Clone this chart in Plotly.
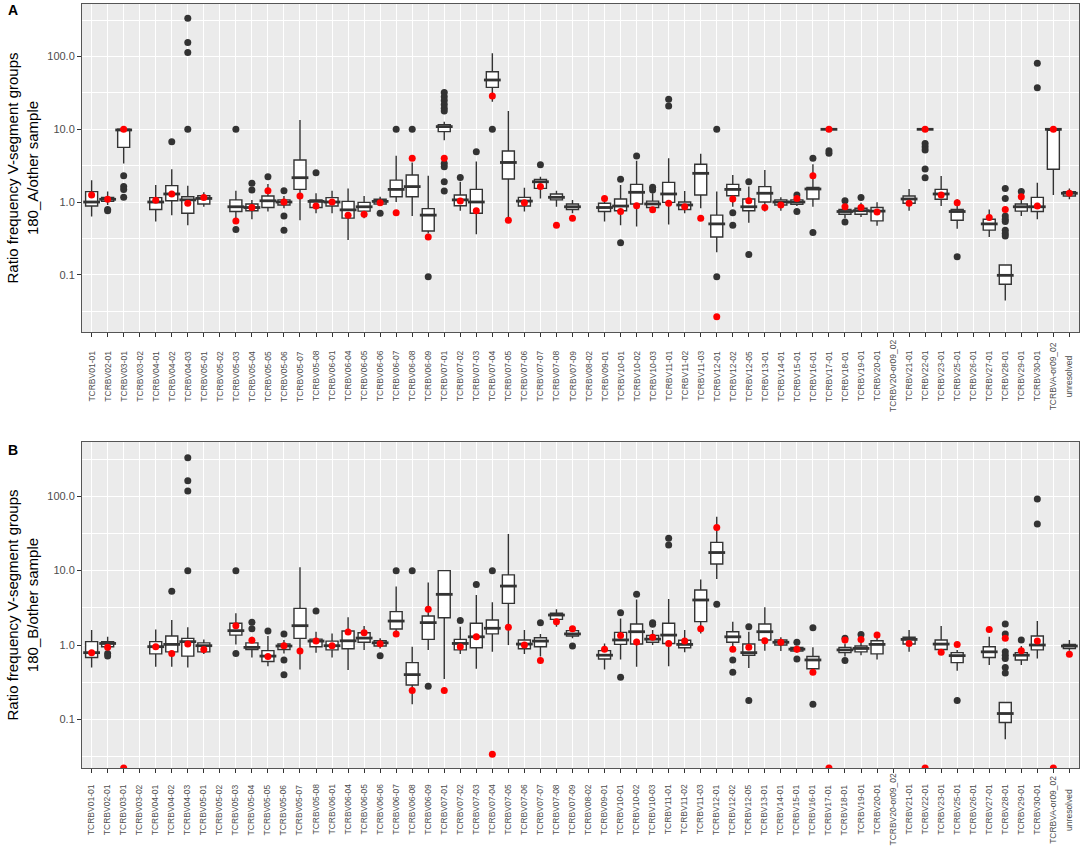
import plotly.graph_objects as go

categories = ["TCRBV01-01","TCRBV02-01","TCRBV03-01","TCRBV03-02","TCRBV04-01","TCRBV04-02","TCRBV04-03",
    "TCRBV05-01","TCRBV05-02","TCRBV05-03","TCRBV05-04","TCRBV05-05","TCRBV05-06","TCRBV05-07","TCRBV05-08",
    "TCRBV06-01","TCRBV06-04","TCRBV06-05","TCRBV06-06","TCRBV06-07","TCRBV06-08","TCRBV06-09",
    "TCRBV07-01","TCRBV07-02","TCRBV07-03","TCRBV07-04","TCRBV07-05","TCRBV07-06","TCRBV07-07","TCRBV07-08","TCRBV07-09",
    "TCRBV08-02","TCRBV09-01","TCRBV10-01","TCRBV10-02","TCRBV10-03","TCRBV11-01","TCRBV11-02","TCRBV11-03",
    "TCRBV12-01","TCRBV12-02","TCRBV12-05","TCRBV13-01","TCRBV14-01","TCRBV15-01","TCRBV16-01","TCRBV17-01",
    "TCRBV18-01","TCRBV19-01","TCRBV20-01","TCRBV20-or09_02","TCRBV21-01","TCRBV22-01","TCRBV23-01","TCRBV25-01",
    "TCRBV26-01","TCRBV27-01","TCRBV28-01","TCRBV29-01","TCRBV30-01","TCRBVA-or09_02","unresolved"]

N = None
# ---------------- Panel A: 180_A / other sample ----------------
q1_A = [0.88,1.02,5.65,N,0.79,1.04,0.70,0.94,N,0.74,0.76,0.84,0.91,1.49,0.84,
        0.88,0.60,0.75,0.94,1.18,1.18,0.40,9.3,0.89,0.70,37.8,2.07,0.88,1.54,1.07,0.79,
        N,0.74,0.76,0.94,0.84,0.99,0.79,1.25,0.33,1.22,0.76,1.0,0.91,0.93,1.10,10,
        0.68,0.68,0.55,N,0.96,10,1.09,0.56,N,0.41,0.074,0.75,0.74,2.82,1.21]
med_A = [1.0,1.09,9.8,N,1.0,1.29,1.07,1.12,N,0.86,0.84,1.04,1.0,2.16,1.02,
         1.0,0.78,0.86,1.02,1.49,1.63,0.66,10.9,1.07,1.0,47.7,3.5,1.03,1.9,1.16,0.86,
         N,0.84,0.88,1.36,0.94,1.29,0.91,2.48,0.50,1.49,0.86,1.32,1.0,1.0,1.51,10,
         0.74,0.76,0.75,N,1.10,10,1.29,0.74,N,0.50,0.098,0.86,0.86,10,1.32]
q3_A = [1.39,1.16,10,N,1.15,1.68,1.18,1.22,N,1.07,0.94,1.21,1.07,3.78,1.07,
        1.15,1.02,0.99,1.09,2.0,2.35,0.81,11.6,1.25,1.49,62,5.03,1.16,2.05,1.29,0.94,
        N,0.96,1.10,1.75,1.03,1.86,1.0,3.3,0.66,1.75,1.10,1.63,1.07,1.07,1.59,10,
        0.79,0.82,0.84,N,1.21,10,1.49,0.79,N,0.58,0.136,0.94,1.16,10,1.39]
lo_A = [0.63,0.91,3.4,N,0.54,0.66,0.48,0.86,N,0.50,0.58,0.74,0.82,0.56,0.70,
        0.70,0.30,0.60,0.88,1.0,0.64,0.37,7.1,0.76,0.36,24,0.56,0.74,1.12,0.86,0.70,
        N,0.54,0.48,0.46,0.78,0.49,0.70,0.82,0.203,0.86,0.52,0.74,0.76,0.88,0.86,10,
        0.60,0.62,0.47,N,0.76,10,0.88,0.43,N,0.33,0.044,0.64,0.58,1.25,1.09]
hi_A = [2.0,1.39,10,N,1.71,2.82,1.68,1.36,N,1.43,1.07,1.77,1.21,13.4,1.32,
        1.43,1.54,1.21,1.18,4.34,3.5,2.3,12.7,1.9,3.6,111,17.9,1.57,2.23,1.43,1.07,
        N,1.09,1.71,3.7,1.32,4.0,1.42,4.6,1.39,2.35,1.63,2.76,1.16,1.12,3.3,10,
        0.91,0.98,0.99,N,1.51,10,2.28,1.09,N,0.79,0.136,1.18,1.84,10,1.54]
out_A = [[],[0.79,0.76],[2.3,1.63,1.49,1.16],[],[],[6.76],[10,114,156,337],[],[],[10,0.42],[1.81,1.46],[2.23],
         [1.43,0.64,0.41],[],[2.53],[],[],[],[0.70],[10],[10],[0.094],
         [32,28,25,22,19.5,17.9,3.4,3.06,1.9,1.42],[2.18],[4.93],[10],[],[],[3.26],[],[],
         [],[],[2.05,0.276],[4.3],[1.59,1.46],[25.9,20.9],[],[],[10,0.094],[0.71,0.48],[1.9,0.19],[],[],[1.25,0.74],
         [4.0,0.38],[5.09,4.67],[1.04,0.53],[1.15],[],[],[],[6.4,5.77,5.2,2.84,2.16],[],[0.177],[],[],
         [1.54,1.12,0.64,0.58,0.54,0.41,0.37,0.34],[1.39],[81,37.4],[],[]]
red_A = [1.25,1.09,10,N,1.06,1.29,0.96,1.15,N,0.55,0.84,1.43,1.0,1.21,0.88,
         1.0,0.66,0.68,0.98,0.71,3.99,0.33,4.0,1.03,0.76,28.7,0.56,0.98,1.63,0.48,0.60,
         N,1.12,0.74,0.89,0.78,0.96,0.86,0.60,0.0264,1.10,1.04,0.84,0.91,1.12,2.3,10,
         0.86,0.84,0.73,N,0.96,10,1.25,0.98,N,0.61,0.79,1.18,0.88,10,1.32]

# ---------------- Panel B: 180_B / other sample ----------------
q1_B = [0.68,0.95,N,N,0.76,0.81,0.71,0.81,N,1.36,0.87,0.60,0.87,1.23,0.95,
        0.86,0.89,1.09,0.97,1.64,0.29,1.19,2.33,0.86,0.92,1.41,3.63,0.89,0.95,2.21,1.32,
        N,0.65,1.02,1.03,1.09,1.05,0.92,2.06,12.3,1.09,0.73,1.17,1.0,0.83,0.48,N,
        0.79,0.81,0.76,N,1.03,N,0.87,0.58,N,0.68,0.091,0.63,0.86,N,0.90]
med_B = [0.79,1.05,N,N,0.95,1.02,1.11,0.98,N,1.56,0.93,0.71,0.97,1.82,1.13,
         0.98,1.14,1.24,1.07,2.1,0.40,2.0,4.8,1.05,1.29,1.68,6.2,1.03,1.13,2.53,1.41,
         N,0.73,1.17,1.51,1.2,1.36,1.02,4.03,17.5,1.29,0.79,1.51,1.09,0.88,0.63,N,
         0.86,0.90,1.02,N,1.19,N,1.03,0.72,N,0.81,0.12,0.73,1.0,N,0.97]
q3_B = [1.11,1.11,N,N,1.11,1.32,1.23,1.07,N,1.96,1.07,0.84,1.03,3.11,1.2,
        1.13,1.54,1.46,1.14,2.81,0.58,2.45,10,1.19,1.96,2.17,8.76,1.17,1.25,2.67,1.56,
        N,0.84,1.48,1.92,1.34,1.96,1.16,5.5,24,1.51,1.03,1.92,1.17,0.93,0.70,N,
        0.93,0.97,1.14,N,1.27,N,1.17,0.79,N,0.95,0.169,0.79,1.32,N,1.02]
lo_B = [0.50,0.86,N,N,0.51,0.51,0.50,0.76,N,1.02,0.68,0.52,0.77,0.47,0.79,
        0.68,0.46,0.86,0.9,1.44,0.16,0.86,0.35,0.76,0.48,0.81,1.0,0.76,0.70,1.76,1.23,
        N,0.47,0.64,0.51,1.0,0.52,0.80,1.43,7.7,0.86,0.49,0.84,0.83,0.79,0.42,N,
        0.70,0.73,0.64,N,0.81,N,0.8,0.45,N,0.54,0.054,0.54,0.66,N,0.84]
hi_B = [1.59,1.29,N,N,1.62,2.17,1.73,1.19,N,2.67,1.29,1.32,1.17,11.1,1.51,
        1.43,2.36,1.8,1.23,6.1,0.95,6.9,10,1.76,4.7,3.75,31,1.59,1.41,3.02,1.73,
        N,1.05,2.28,4.1,1.59,4.16,1.59,7.6,53,2.06,1.51,3.21,1.27,0.97,0.93,N,
        1.05,1.17,1.3,N,1.59,N,1.8,0.86,N,1.29,0.169,0.97,2.1,N,1.17]
out_B = [[],[0.77,0.71],[],[],[],[5.3],[10,118,161,330],[],[],[10,0.77],[2.02,1.66],[1.54],
         [1.41,0.63,0.40],[],[2.86],[],[],[],[0.72],[10],[10],[0.28],
         [],[2.13],[6.5],[10],[],[],[2.0],[],[0.97],
         [],[],[2.72,0.37],[4.8],[2.0,1.9],[27.2,22.1],[],[],[3.53],[0.63,0.43],[1.76,0.18],[],[],[1.09,0.65],
         [1.71,0.16],[],[1.23,0.62],[1.39],[],[],[],[],[],[0.18],[],[],
         [1.92,1.41,0.81,0.73,0.66,0.50,0.42],[1.17],[92,42.4],[],[]]
red_B = [0.79,0.93,0,N,0.95,0.77,1.03,0.87,N,1.82,1.16,0.70,0.98,0.83,1.13,
         0.98,1.5,1.46,1.04,1.41,0.245,3.02,0.245,0.95,1.29,0.034,1.73,1.0,0.62,2.06,1.66,
         N,0.88,1.34,1.1,1.27,1.05,1.13,1.66,37.9,0.88,0.93,1.14,1.09,0.88,0.43,0,
         1.17,1.19,1.36,N,1.05,0,0.8,1.02,N,1.62,1.23,0.84,1.13,0,0.75]

y_titles = ["Ratio frequency V-segment groups<br>180_A/other sample",
            "Ratio frequency V-segment groups<br>180_B/other sample"]
panel_tags = ["A", "B"]
y_tickvals = [0.1, 1, 10, 100]
y_ticktext = ["0.1", "1.0", "10.0", "100.0"]
y_ranges = [[-1.788, 2.724], [-1.653, 2.729]]   # log10 limits
domains = [[0.5707, 1.0], [0.0, 0.4267]]
tag_y = [0.992, 0.4162]
PLOT_H = 846 - 4 - 78
label_y = [domains[0][0] - 44 / PLOT_H, domains[1][0] - 41.5 / PLOT_H]   # centre of rotated x labels

BOX_COL = "#333333"
FONT = "Liberation Sans, Arial"

fig = go.Figure()
panels = [(q1_A, med_A, q3_A, lo_A, hi_A, out_A, red_A),
          (q1_B, med_B, q3_B, lo_B, hi_B, out_B, red_B)]

for p, (q1, med, q3, lo, hi, out, red) in enumerate(panels):
    xa = "x" if p == 0 else "x2"
    ya = "y" if p == 0 else "y2"
    idx = [i for i in range(len(categories)) if q1[i] is not None]
    xs = [categories[i] for i in idx]
    fig.add_trace(go.Box(
        x=xs, q1=[q1[i] for i in idx], median=[med[i] for i in idx], q3=[q3[i] for i in idx],
        lowerfence=[lo[i] for i in idx], upperfence=[hi[i] for i in idx],
        boxpoints=False, fillcolor="white", line=dict(color=BOX_COL, width=1.4),
        whiskerwidth=0, width=0.75, xaxis=xa, yaxis=ya, showlegend=False, hoverinfo="skip"))
    fig.add_trace(go.Scatter(
        x=xs, y=[med[i] for i in idx], mode="markers", xaxis=xa, yaxis=ya, showlegend=False,
        marker=dict(symbol="line-ew", size=12, line=dict(color=BOX_COL, width=2.8)), hoverinfo="skip"))
    ox, oy = [], []
    for i, vals in enumerate(out):
        for v in vals:
            ox.append(categories[i]); oy.append(v)
    fig.add_trace(go.Scatter(x=ox, y=oy, mode="markers", xaxis=xa, yaxis=ya, showlegend=False,
                             marker=dict(color=BOX_COL, size=7), hoverinfo="skip"))
    floor = 10 ** y_ranges[p][0]
    rx = [categories[i] for i in range(len(categories)) if red[i] is not None]
    ry = [(red[i] if red[i] > 0 else floor) for i in range(len(categories)) if red[i] is not None]
    fig.add_trace(go.Scatter(x=rx, y=ry, mode="markers", xaxis=xa, yaxis=ya, showlegend=False,
                             marker=dict(color="#FF0000", size=7), hoverinfo="skip"))

minor_vals = [10 ** (k + 0.5) for k in range(-3, 3)]
for p in range(2):
    xk = "xaxis" if p == 0 else "xaxis2"
    yk = "yaxis" if p == 0 else "yaxis2"
    xa = "x" if p == 0 else "x2"
    xd = dict(type="category", categoryorder="array", categoryarray=categories,
              range=[-0.6, len(categories) - 0.4], showgrid=True, gridcolor="white", gridwidth=1.1,
              tickmode="array", tickvals=categories, showticklabels=False,
              ticks="outside", ticklen=4, tickcolor="#333333", tickwidth=1,
              showline=True, linecolor="#555555", linewidth=1, mirror=True, zeroline=False,
              automargin=False, anchor="y" if p == 0 else "y2", domain=[0, 1])
    yd = dict(type="log", range=y_ranges[p], domain=domains[p], anchor="x" if p == 0 else "x2",
              tickmode="array", tickvals=y_tickvals, ticktext=y_ticktext,
              showgrid=True, gridcolor="white", gridwidth=1.1,
              minor=dict(tickmode="array", tickvals=minor_vals, showgrid=True, gridcolor="white",
                         gridwidth=0.5, ticks=""),
              ticks="outside", ticklen=4, tickcolor="#333333", tickwidth=1,
              tickfont=dict(family=FONT, size=11, color="#4D4D4D"),
              title=dict(text=y_titles[p], font=dict(family=FONT, size=15, color="black"), standoff=5),
              showline=True, linecolor="#555555", linewidth=1, mirror=True, zeroline=False,
              automargin=False)
    fig.update_layout({xk: xd, yk: yd})
    fig.add_annotation(text="<b>%s</b>" % panel_tags[p], xref="paper", yref="paper", x=-76 / 997,
                       y=tag_y[p], xanchor="left", yanchor="middle", showarrow=False,
                       font=dict(family=FONT, size=14, color="black"))
    # category labels, rotated and centred under each tick (ggplot style)
    for c in categories:
        fig.add_annotation(text=c, xref=xa, yref="paper", x=c, y=label_y[p], textangle=-90,
                           xanchor="center", yanchor="middle", showarrow=False,
                           font=dict(family=FONT, size=8.5, color="#4D4D4D"))

fig.update_layout(width=1084, height=846, margin=dict(l=82, r=5, t=4, b=78, autoexpand=False),
                  paper_bgcolor="white", plot_bgcolor="#EBEBEB", showlegend=False,
                  font=dict(family=FONT))
fig.write_html("out.html", config={"displayModeBar": False},
               post_script="document.body.style.margin='0';document.body.style.overflow='hidden';")
